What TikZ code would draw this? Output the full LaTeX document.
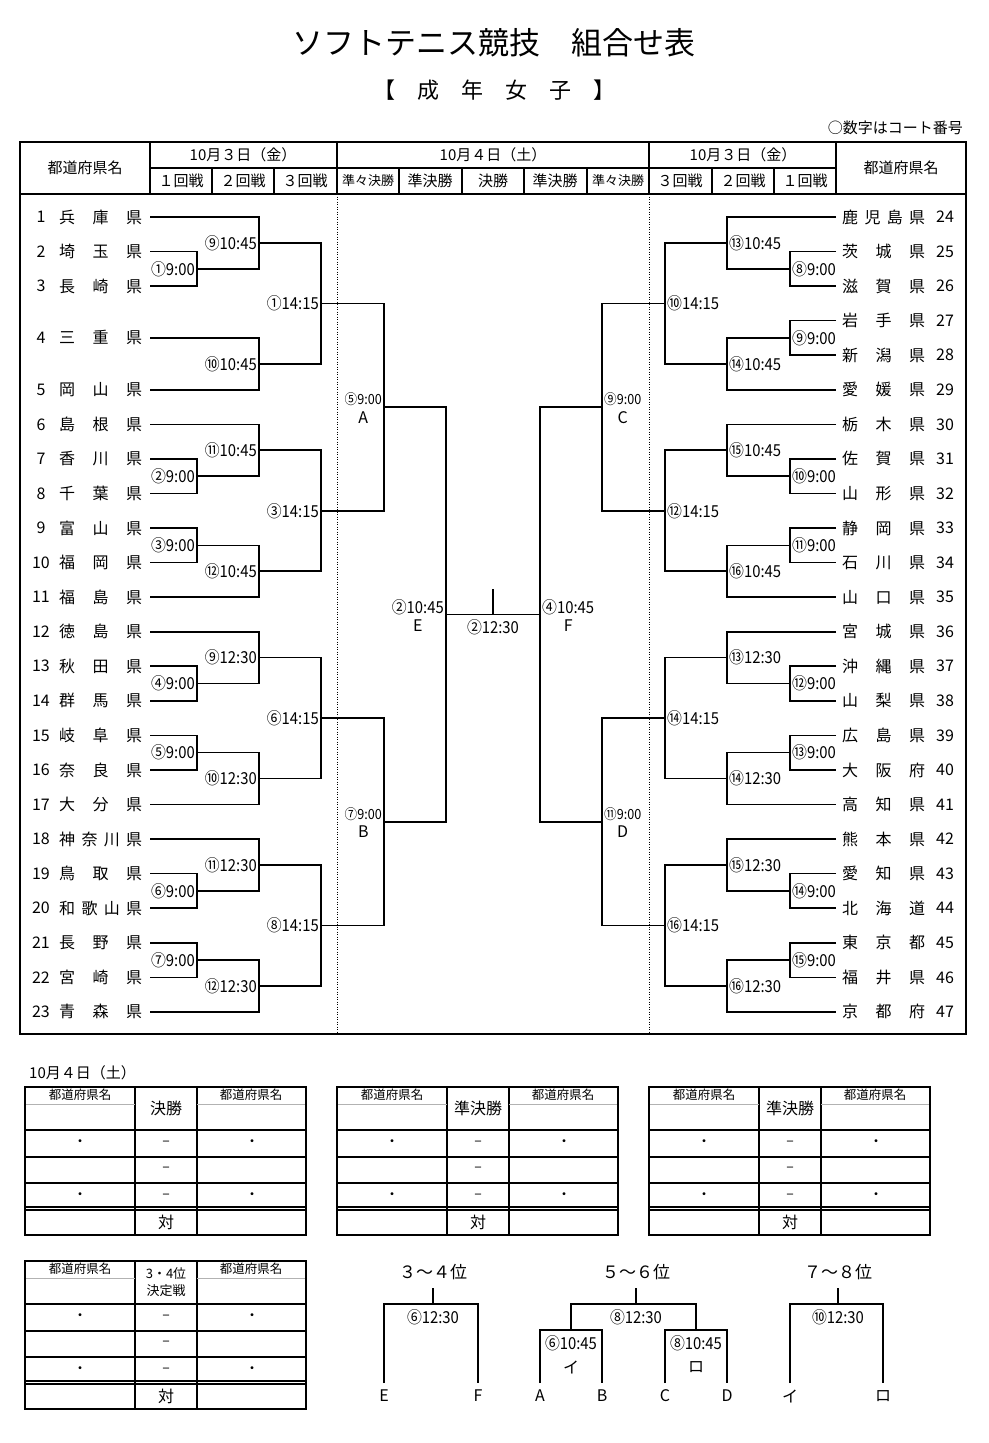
\documentclass[tikz,border=0pt]{standalone}
\usepackage{fontspec}
\setmainfont{Noto Sans CJK JP}
\newfontfamily\condfont[FakeStretch=0.9]{Noto Sans CJK JP}
\usepackage{tikz}
\usetikzlibrary{positioning}

\tikzset{
  frame/.style={line width=2.6pt},
  hline/.style={line width=1.2pt},
  dotline/.style={line width=0.8pt, dash pattern=on 1pt off 1.5pt},
  bline/.style={line width=1.6pt},
  pname/.style={anchor=west, inner sep=0pt, font=\fontsize{16}{18}\selectfont},
  pnum/.style={inner sep=0pt, font=\fontsize{16}{18}\selectfont},
  hdr/.style={inner sep=0pt, font=\fontsize{15}{17}\selectfont},
  tlbl/.style={inner sep=2pt, font=\condfont\fontsize{16.5}{18}\selectfont},
  qlbl/.style={inner sep=2pt, font=\condfont\fontsize{14}{16}\selectfont},
  slbl/.style={inner sep=2pt, font=\condfont\fontsize{16.5}{18}\selectfont},
  letter/.style={inner sep=1pt, font=\fontsize{16}{18}\selectfont},
  tblout/.style={line width=1.8pt},
  tblin/.style={line width=1.3pt},
  tblgray/.style={line width=0.8pt, gray!60},
  thead/.style={inner sep=0pt, font=\fontsize{12.5}{14}\selectfont},
  mtitle/.style={inner sep=0pt, align=center, font=\fontsize{16}{18}\selectfont},
  cell/.style={inner sep=0pt, font=\fontsize{14}{16}\selectfont},
  rtitle/.style={inner sep=0pt, font=\fontsize{17}{19}\selectfont}
}

\begin{document}
\begin{tikzpicture}[x=1pt,y=-1pt]
\useasboundingbox (0,0) rectangle (988,1443);

% title
\node[font=\fontsize{31}{33}\selectfont] (title) at (494,43) {ソフトテニス競技　組合せ表};
\node[font=\fontsize{22}{24}\selectfont] (sub) at (494,90) {【　成　年　女　子　】};
\node[font=\fontsize{15}{17}\selectfont, anchor=east, inner sep=0pt] (note) at (963,128) {○数字はコート番号};

% frame and header
\draw[frame] (20,142) rectangle (966,1034);
\draw[frame] (20,194) -- (966,194);
\draw[hline] (150,168) -- (836,168);
\foreach \x in {150,337,649,836}
    \draw[hline] (\x,142) -- (\x,194);
\foreach \x in {212,274,399,462,524,587,712,774}
    \draw[hline] (\x,168) -- (\x,194);
\foreach \x in {337,649}
    \draw[dotline] (\x,194) -- (\x,1034);

\foreach \x/\y/\h in {
    85/168/都道府県名, 901/168/都道府県名,
    243/155/{10月３日（金）}, 493/155/{10月４日（土）}, 743/155/{10月３日（金）},
    181/181/１回戦, 243/181/２回戦, 305/181/３回戦,
    430/181/準決勝, 493/181/決勝, 555/181/準決勝,
    680/181/３回戦, 743/181/２回戦, 805/181/１回戦}
    \node[hdr] (hd\x-\y) at (\x,\y) {\h};
\node[hdr, font=\fontsize{13}{15}\selectfont] (hdqa) at (368,181) {準々決勝};
\node[hdr, font=\fontsize{13}{15}\selectfont] (hdqb) at (618,181) {準々決勝};

% left prefectures
\foreach \i/\k/\nm in {
    1/0/{兵 庫 県}, 2/1/{埼 玉 県}, 3/2/{長 崎 県}, 4/3.5/{三 重 県},
    5/5/{岡 山 県}, 6/6/{島 根 県}, 7/7/{香 川 県}, 8/8/{千 葉 県},
    9/9/{富 山 県}, 10/10/{福 岡 県}, 11/11/{福 島 県}, 12/12/{徳 島 県},
    13/13/{秋 田 県}, 14/14/{群 馬 県}, 15/15/{岐 阜 県}, 16/16/{奈 良 県},
    17/17/{大 分 県}, 18/18/{神 奈 川 県}, 19/19/{鳥 取 県}, 20/20/{和 歌 山 県},
    21/21/{長 野 県}, 22/22/{宮 崎 県}, 23/23/{青 森 県}}
{
    \pgfmathsetmacro\yy{217+34.56*\k}
    \coordinate (p\i) at (150,\yy);
    \node[pnum] (c\i) at (41,\yy) {\i};
    \node[pname] (n\i) at (59,\yy) {\makebox[83pt][s]{\nm}};
}

% right prefectures
\foreach \i/\nm in {
    24/{鹿 児 島 県}, 25/{茨 城 県}, 26/{滋 賀 県}, 27/{岩 手 県},
    28/{新 潟 県}, 29/{愛 媛 県}, 30/{栃 木 県}, 31/{佐 賀 県},
    32/{山 形 県}, 33/{静 岡 県}, 34/{石 川 県}, 35/{山 口 県},
    36/{宮 城 県}, 37/{沖 縄 県}, 38/{山 梨 県}, 39/{広 島 県},
    40/{大 阪 府}, 41/{高 知 県}, 42/{熊 本 県}, 43/{愛 知 県},
    44/{北 海 道}, 45/{東 京 都}, 46/{福 井 県}, 47/{京 都 府}}
{
    \pgfmathsetmacro\yy{217+34.56*(\i-24)}
    \coordinate (q\i) at (836,\yy);
    \node[pnum] (c\i) at (945,\yy) {\i};
    \node[pname] (n\i) at (842,\yy) {\makebox[83pt][s]{\nm}};
}

% left bracket
\foreach \mt/\ea/\eb/\x/\k/\lb in {
    l1a/p2/p3/197/1.5/①9:00, l2a/p7/p8/197/7.5/②9:00,
    l2b/p9/p10/197/9.5/③9:00, l3a/p13/p14/197/13.5/④9:00,
    l3b/p15/p16/197/15.5/⑤9:00, l4a/p19/p20/197/19.5/⑥9:00,
    l4b/p21/p22/197/21.5/⑦9:00,
    l1A/p1/l1a/259/0.75/⑨10:45, l1B/p4/p5/259/4.25/⑩10:45,
    l2A/p6/l2a/259/6.75/⑪10:45, l2B/l2b/p11/259/10.25/⑫10:45,
    l3A/p12/l3a/259/12.75/⑨12:30, l3B/l3b/p17/259/16.25/⑩12:30,
    l4A/p18/l4a/259/18.75/⑪12:30, l4B/l4b/p23/259/22.25/⑫12:30,
    l1/l1A/l1B/321/2.5/①14:15, l2/l2A/l2B/321/8.5/③14:15,
    l3/l3A/l3B/321/14.5/⑥14:15, l4/l4A/l4B/321/20.5/⑧14:15}
{
    \pgfmathsetmacro\yy{217+34.56*\k}
    \coordinate (\mt) at (\x,\yy);
    \draw[bline] (\ea) -| (\mt) |- (\eb);
    \node[tlbl, anchor=east] (t\mt) at (\x,\yy) {\lb};
}

% right bracket
\foreach \mt/\ea/\eb/\x/\k/\lb in {
    r1a/q25/q26/790/1.5/⑧9:00, r1b/q27/q28/790/3.5/⑨9:00,
    r2a/q31/q32/790/7.5/⑩9:00, r2b/q33/q34/790/9.5/⑪9:00,
    r3a/q37/q38/790/13.5/⑫9:00, r3b/q39/q40/790/15.5/⑬9:00,
    r4a/q43/q44/790/19.5/⑭9:00, r4b/q45/q46/790/21.5/⑮9:00,
    r1A/q24/r1a/727/0.75/⑬10:45, r1B/r1b/q29/727/4.25/⑭10:45,
    r2A/q30/r2a/727/6.75/⑮10:45, r2B/r2b/q35/727/10.25/⑯10:45,
    r3A/q36/r3a/727/12.75/⑬12:30, r3B/r3b/q41/727/16.25/⑭12:30,
    r4A/q42/r4a/727/18.75/⑮12:30, r4B/r4b/q47/727/22.25/⑯12:30,
    r1/r1A/r1B/665/2.5/⑩14:15, r2/r2A/r2B/665/8.5/⑫14:15,
    r3/r3A/r3B/665/14.5/⑭14:15, r4/r4A/r4B/665/20.5/⑯14:15}
{
    \pgfmathsetmacro\yy{217+34.56*\k}
    \coordinate (\mt) at (\x,\yy);
    \draw[bline] (\ea) -| (\mt) |- (\eb);
    \node[tlbl, anchor=west] (t\mt) at (\x,\yy) {\lb};
}

% quarter and semi finals
\foreach \mt/\ea/\eb/\x/\k/\lb/\lt/\an/\st in {
    lA/l1/l2/384/5.5/⑤9:00/A/east/qlbl, lB/l3/l4/384/17.5/⑦9:00/B/east/qlbl,
    rC/r1/r2/602/5.5/⑨9:00/C/west/qlbl, rD/r3/r4/602/17.5/⑪9:00/D/west/qlbl,
    lE/lA/lB/446/11.5/②10:45/E/east/slbl, rF/rC/rD/540/11.5/④10:45/F/west/slbl}
{
    \pgfmathsetmacro\yy{217+34.56*\k}
    \coordinate (\mt) at (\x,\yy);
    \draw[bline] (\ea) -| (\mt) |- (\eb);
    \node[\st, anchor=\an] (t\mt) at (\x,\yy-7.5) {\lb};
    \node[letter, below=2pt of t\mt] (g\mt) {\lt};
}

% final
\coordinate (fin) at (493,614.4);
\draw[bline] (lE) -- (rF);
\draw[bline] (fin) -- ++(0,-25);
\node[slbl] (tfin) at (493,627) {②12:30};

% score tables
\node[hdr, anchor=west] (day) at (29,1073) {10月４日（土）};
\foreach \x/\y in {25/1087, 337/1087, 649/1087, 25/1261}
{
    \begin{scope}[shift={(\x,\y)}]
    \draw[tblin] (0,43) -- (281,43) (0,70) -- (281,70) (0,96) -- (281,96)
        (0,120) -- (281,120) (0,123) -- (281,123);
    \draw[tblin] (110,0) -- (110,148) (172,0) -- (172,148);
    \draw[tblgray] (0,17) -- (110,17) (172,17) -- (281,17);
    \draw[tblout] (0,0) rectangle (281,148);
    \node[thead] (ha\x-\y) at (55,8) {都道府県名};
    \node[thead] (hb\x-\y) at (226,8) {都道府県名};
    \foreach \r/\a/\b/\c in {56/・/–/・, 82//–/, 109/・/–/・}
    {
        \node[cell] (ca\x-\y-\r) at (55,\r) {\a};
        \node[cell] (cb\x-\y-\r) at (141,\r) {\b};
        \node[cell] (cc\x-\y-\r) at (227,\r) {\c};
    }
    \node[mtitle] (vs\x-\y) at (141,135) {対};
    \end{scope}
}
\node[mtitle] (m1) at (166,1108) {決勝};
\node[mtitle] (m2) at (478,1108) {準決勝};
\node[mtitle] (m3) at (790,1108) {準決勝};
\node[mtitle, font=\fontsize{13}{17}\selectfont] (m4) at (166,1282) {3・4位\\決定戦};

% placing brackets
\node[rtitle] (p34) at (433,1272) {３～４位};
\node[rtitle] (p56) at (636,1272) {５～６位};
\node[rtitle] (p78) at (838,1272) {７～８位};
\foreach \x/\nm in {433/34, 636/56, 838/78}
{
    \coordinate (k\nm) at (\x,1288);
    \coordinate (j\nm) at (\x,1304);
    \draw[bline] (k\nm) -- (j\nm);
}
\coordinate (j6) at (571,1330);
\coordinate (j8) at (696,1330);
\foreach \x/\l/\nm in {384/E/E, 478/F/F, 540/A/A, 602/B/B, 665/C/C, 727/D/D,
    790/イ/I, 883/ロ/Ro}
{
    \coordinate (leaf\nm) at (\x,1383);
    \node[letter] (gl\nm) at (\x,1396) {\l};
}
\draw[bline] (leafE) |- (j34) -| (leafF);
\draw[bline] (j6) |- (j56) -| (j8);
\draw[bline] (leafA) |- (j6) -| (leafB);
\draw[bline] (leafC) |- (j8) -| (leafD);
\draw[bline] (leafI) |- (j78) -| (leafRo);

\node[slbl] (t34) at (433,1317) {⑥12:30};
\node[slbl] (t56) at (636,1317) {⑧12:30};
\node[slbl] (t78) at (838,1317) {⑩12:30};
\node[slbl] (t6) at (571,1343) {⑥10:45};
\node[slbl] (t8) at (696,1343) {⑧10:45};
\node[letter] (gi) at (571,1367) {イ};
\node[letter] (gro) at (696,1367) {ロ};

\end{tikzpicture}
\end{document}
